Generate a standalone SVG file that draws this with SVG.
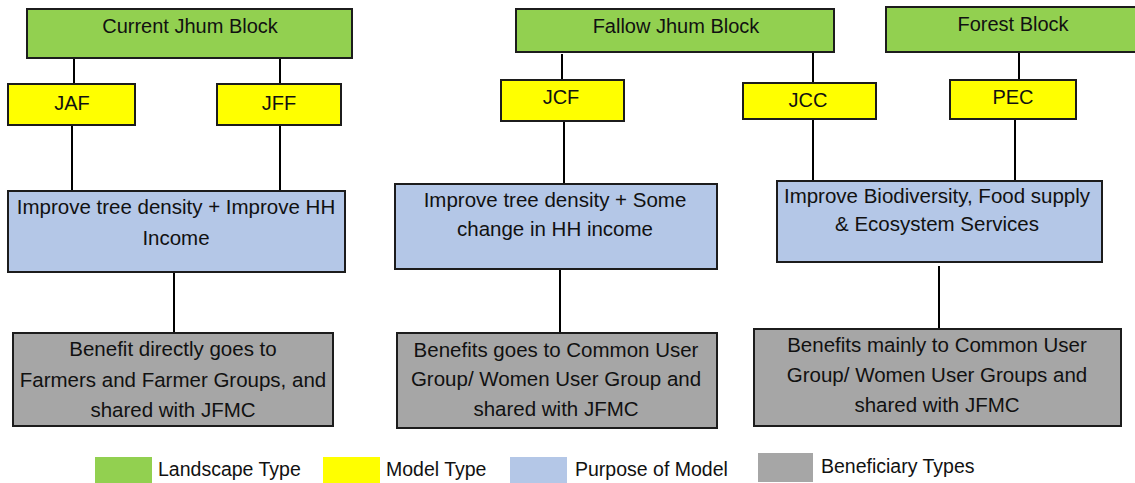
<svg xmlns="http://www.w3.org/2000/svg" width="1135" height="483" viewBox="0 0 1135 483">
  <style>
    .box { stroke: #1c1c1c; stroke-width: 2; }
    .land { fill: #92d050; }
    .model { fill: #ffff00; }
    .purpose { fill: #b4c7e7; }
    .benef { fill: #a6a6a6; }
    .lbl { font-family: "Liberation Sans", Arial, sans-serif; font-size: 20px; fill: #111; text-anchor: middle; }
    .txt { font-family: "Liberation Sans", Arial, sans-serif; font-size: 20.5px; fill: #111; text-anchor: middle; }
    .leg { font-family: "Liberation Sans", Arial, sans-serif; font-size: 19.5px; fill: #111; }
    .conn line { stroke: #000; stroke-width: 2; }
  </style>

  <!-- connectors -->
  <g id="connectors" class="conn">
    <line x1="74" y1="58" x2="74" y2="84"/>
    <line x1="280" y1="57" x2="280" y2="84"/>
    <line x1="72" y1="125" x2="72" y2="191"/>
    <line x1="280" y1="125" x2="280" y2="190"/>
    <line x1="174" y1="272" x2="174" y2="333"/>
    <line x1="562" y1="54" x2="562" y2="80"/>
    <line x1="564" y1="121" x2="564" y2="184"/>
    <line x1="560" y1="269" x2="560" y2="333"/>
    <line x1="813" y1="52" x2="813" y2="83"/>
    <line x1="813" y1="119" x2="813" y2="181"/>
    <line x1="1019" y1="52" x2="1019" y2="80"/>
    <line x1="1015" y1="119" x2="1015" y2="181"/>
    <line x1="939" y1="266" x2="939" y2="329"/>
  </g>

  <!-- landscape blocks -->
  <g id="current-jhum">
    <rect class="box land" x="27" y="9" width="325" height="49"/>
    <text class="lbl" x="190" y="33">Current Jhum Block</text>
  </g>
  <g id="fallow-jhum">
    <rect class="box land" x="516" y="9" width="318" height="43"/>
    <text class="lbl" x="676" y="33">Fallow Jhum Block</text>
  </g>
  <g id="forest">
    <rect class="box land" x="886" y="7" width="250" height="45"/>
    <text class="lbl" x="1013" y="31">Forest Block</text>
  </g>

  <!-- model types -->
  <g id="jaf">
    <rect class="box model" x="8" y="84" width="127" height="41"/>
    <text class="lbl" x="72" y="110">JAF</text>
  </g>
  <g id="jff">
    <rect class="box model" x="217" y="84" width="124" height="41"/>
    <text class="lbl" x="279" y="110">JFF</text>
  </g>
  <g id="jcf">
    <rect class="box model" x="501" y="80" width="123" height="41"/>
    <text class="lbl" x="561" y="104">JCF</text>
  </g>
  <g id="jcc">
    <rect class="box model" x="743" y="83" width="133" height="36"/>
    <text class="lbl" x="808" y="107">JCC</text>
  </g>
  <g id="pec">
    <rect class="box model" x="950" y="80" width="126" height="39"/>
    <text class="lbl" x="1013" y="104">PEC</text>
  </g>

  <!-- purposes -->
  <g id="purpose-current">
    <rect class="box purpose" x="8" y="191" width="337" height="81"/>
    <text class="txt" x="176" y="214">Improve tree density + Improve HH</text>
    <text class="txt" x="176" y="245">Income</text>
  </g>
  <g id="purpose-fallow">
    <rect class="box purpose" x="395" y="184" width="322" height="85"/>
    <text class="txt" x="555" y="207">Improve tree density + Some</text>
    <text class="txt" x="555" y="236">change in HH income</text>
  </g>
  <g id="purpose-forest">
    <rect class="box purpose" x="777" y="181" width="325" height="81"/>
    <text class="txt" x="937" y="203">Improve Biodiversity, Food supply</text>
    <text class="txt" x="937" y="231">&amp; Ecosystem Services</text>
  </g>

  <!-- beneficiaries -->
  <g id="benefit-current">
    <rect class="box benef" x="13" y="333" width="320" height="93"/>
    <text class="txt" x="173" y="356">Benefit directly goes to</text>
    <text class="txt" x="173" y="387">Farmers and Farmer Groups, and</text>
    <text class="txt" x="173" y="417">shared with JFMC</text>
  </g>
  <g id="benefit-fallow">
    <rect class="box benef" x="397" y="333" width="320" height="95"/>
    <text class="txt" x="556" y="357">Benefits goes to Common User</text>
    <text class="txt" x="556" y="386">Group/ Women User Group and</text>
    <text class="txt" x="556" y="416">shared with JFMC</text>
  </g>
  <g id="benefit-forest">
    <rect class="box benef" x="754" y="329" width="367" height="97"/>
    <text class="txt" x="937" y="352">Benefits mainly to Common User</text>
    <text class="txt" x="937" y="382">Group/ Women User Groups and</text>
    <text class="txt" x="937" y="412">shared with JFMC</text>
  </g>

  <!-- legend -->
  <g id="legend">
    <rect class="land" x="95" y="457" width="57" height="26"/>
    <text class="leg" x="158" y="476">Landscape Type</text>
    <rect class="model" x="323" y="457" width="57" height="26"/>
    <text class="leg" x="386" y="476">Model Type</text>
    <rect class="purpose" x="510" y="457" width="57" height="26"/>
    <text class="leg" x="575" y="476">Purpose of Model</text>
    <rect class="benef" x="758" y="453" width="55" height="29"/>
    <text class="leg" x="821" y="473">Beneficiary Types</text>
  </g>
</svg>
